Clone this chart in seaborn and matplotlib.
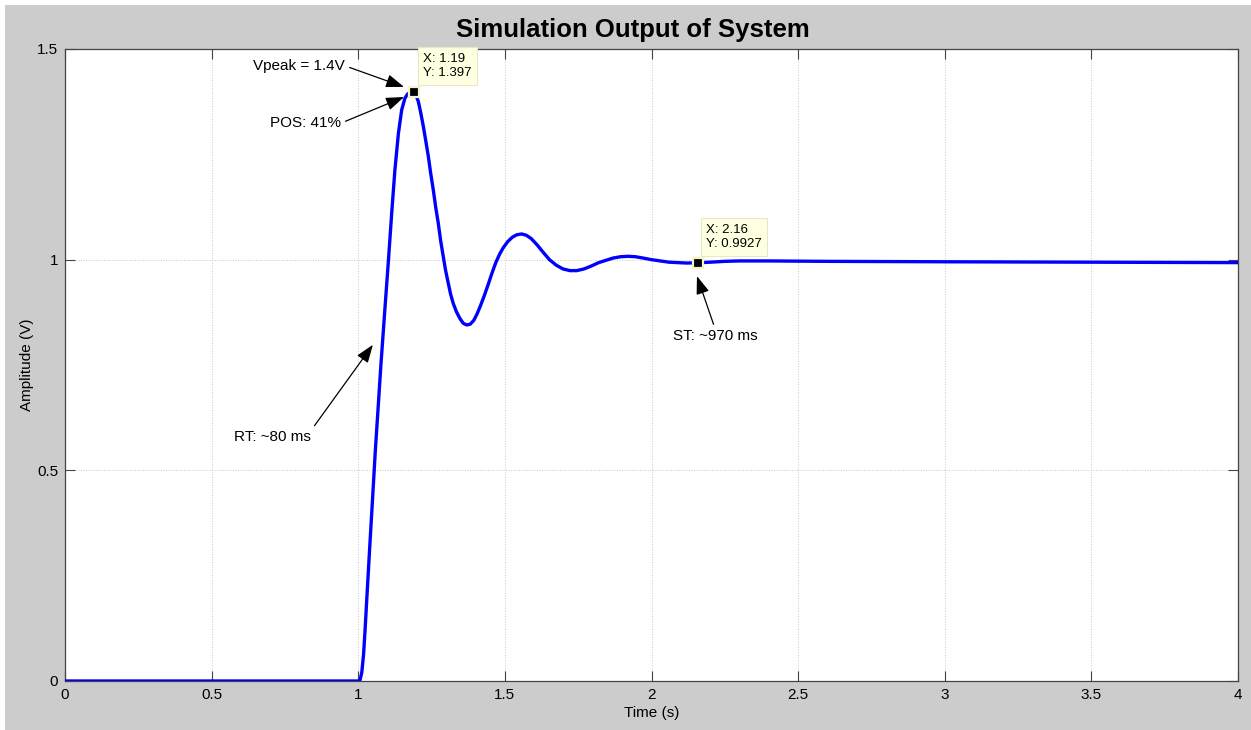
import matplotlib
matplotlib.use("Agg")
import matplotlib.pyplot as plt
import seaborn as sns
import pandas as pd
from matplotlib.patches import Rectangle

# ---- data ----
time_s = [0.0, 1.0, 1.006, 1.012, 1.018, 1.023, 1.031, 1.040, 1.049, 1.058,
          1.068, 1.077, 1.091, 1.103, 1.114, 1.125, 1.137, 1.148, 1.159, 1.168,
          1.177, 1.184, 1.19, 1.197, 1.205, 1.213, 1.222, 1.230, 1.239, 1.247,
          1.256, 1.264, 1.273, 1.281, 1.290, 1.298, 1.307, 1.315, 1.324, 1.335,
          1.347, 1.358, 1.370, 1.382, 1.394, 1.405, 1.417, 1.430, 1.443, 1.456,
          1.469, 1.482, 1.495, 1.510, 1.525, 1.540, 1.557, 1.573, 1.590, 1.610,
          1.630, 1.652, 1.675, 1.698, 1.722, 1.745, 1.770, 1.795, 1.820, 1.847,
          1.870, 1.895, 1.920, 1.945, 1.970, 2.000, 2.030, 2.060, 2.090, 2.120,
          2.160, 2.200, 2.250, 2.300, 2.400, 2.600, 3.000, 3.500, 4.000]
amplitude = [0.0, 0.0, 0.002, 0.020, 0.062, 0.118, 0.218, 0.328, 0.435, 0.544,
             0.651, 0.748, 0.884, 0.999, 1.110, 1.213, 1.300, 1.355, 1.383, 1.393,
             1.397, 1.398, 1.397, 1.390, 1.375, 1.349, 1.316, 1.283, 1.245, 1.205,
             1.165, 1.125, 1.086, 1.045, 1.007, 0.974, 0.944, 0.918, 0.896, 0.876,
             0.860, 0.849, 0.845, 0.847, 0.856, 0.871, 0.891, 0.915, 0.941, 0.968,
             0.993, 1.013, 1.029, 1.043, 1.053, 1.059, 1.061, 1.058, 1.050, 1.035,
             1.018, 1.000, 0.987, 0.978, 0.974, 0.974, 0.978, 0.985, 0.993, 0.999,
             1.004, 1.007, 1.008, 1.007, 1.004, 1.000, 0.997, 0.994, 0.993, 0.992,
             0.9927, 0.994, 0.996, 0.997, 0.997, 0.996, 0.995, 0.994, 0.993]

tip_x = [1.19, 2.16]
tip_y = [1.397, 0.9927]
tip_labels = ["X: 1.19\nY: 1.397", "X: 2.16\nY: 0.9927"]

x_ticks = [0, 0.5, 1, 1.5, 2, 2.5, 3, 3.5, 4]
x_tick_labels = ["0", "0.5", "1", "1.5", "2", "2.5", "3", "3.5", "4"]
y_ticks = [0, 0.5, 1, 1.5]
y_tick_labels = ["0", "0.5", "1", "1.5"]

title = "Simulation Output of System"
x_label = "Time (s)"
y_label = "Amplitude (V)"

# ---- style ----
sns.set_theme(style="white")
plt.rcParams['font.family'] = ['Liberation Sans', 'DejaVu Sans']
plt.rcParams['text.color'] = 'black'
plt.rcParams['axes.labelcolor'] = 'black'

fig = plt.figure(figsize=(12.51, 7.30), dpi=100, facecolor="#cccccc")
# thin white screenshot border on top and left
fig.patches.append(Rectangle((0, 1 - 5 / 730), 1, 5 / 730, transform=fig.transFigure,
                             facecolor="white", edgecolor="none", zorder=-1))
fig.patches.append(Rectangle((0, 0), 5 / 1251, 1, transform=fig.transFigure,
                             facecolor="white", edgecolor="none", zorder=-1))

ax = fig.add_axes([65 / 1251, 49 / 730, (1238 - 65) / 1251, (681 - 49) / 730])
ax.set_facecolor("white")

df = pd.DataFrame({"t": time_s, "v": amplitude})
sns.lineplot(data=df, x="t", y="v", ax=ax, color="#0000ff", linewidth=2.4,
             sort=False, estimator=None, zorder=3)

ax.set_xlim(0, 4)
ax.set_ylim(0, 1.5)
ax.set_xticks(x_ticks)
ax.set_xticklabels(x_tick_labels)
ax.set_yticks(y_ticks)
ax.set_yticklabels(y_tick_labels)
ax.tick_params(direction="in", length=7, width=0.8, colors="#444444",
               labelcolor="black", labelsize=11, top=True, right=True,
               bottom=True, left=True, pad=5)
ax.grid(True, linestyle=":", color="#c8c8c8", linewidth=0.7)
for s in ax.spines.values():
    s.set_color("#444444")
    s.set_linewidth(0.9)
    s.set_visible(True)

ax.set_xlabel(x_label, fontsize=11, labelpad=3, color="black")
ax.set_ylabel(y_label, fontsize=11, labelpad=2, color="black")
fig.text(633 / 1251, 1 - 29.5 / 730, title, fontsize=18.5, fontweight="bold",
         color="black", ha="center", va="center")

# data tip markers and boxes
ax.plot(tip_x, tip_y, linestyle="none", marker="s", markersize=7,
        markerfacecolor="black", markeredgecolor="#f4f4c8", markeredgewidth=1.6,
        zorder=5, clip_on=False)
tip_text_pos = [(1.222, 1.428), (2.186, 1.022)]
for (tx, ty), lab in zip(tip_text_pos, tip_labels):
    ax.text(tx, ty, lab, fontsize=9.5, ha="left", va="bottom", linespacing=1.3,
            color="black",
            bbox=dict(boxstyle="square,pad=0.4", facecolor="#ffffe1",
                      edgecolor="#e8e8c8", linewidth=0.8),
            zorder=6, clip_on=False)

# annotations with arrows
arrow = dict(arrowstyle="-|>,head_length=1.1,head_width=0.4", color="black",
             lw=0.9, mutation_scale=10, shrinkA=1, shrinkB=0)
ax.annotate("Vpeak = 1.4V", xy=(1.156, 1.410), xytext=(0.955, 1.460),
            ha="right", va="center", fontsize=11, color="black",
            arrowprops=dict(arrow, relpos=(1.0, 0.5)), zorder=7)
ax.annotate("POS: 41%", xy=(1.156, 1.386), xytext=(0.941, 1.324),
            ha="right", va="center", fontsize=11, color="black",
            arrowprops=dict(arrow, relpos=(1.0, 0.5)), zorder=7)
ax.annotate("RT: ~80 ms", xy=(1.050, 0.798), xytext=(0.709, 0.579),
            ha="center", va="center", fontsize=11, color="black",
            arrowprops=dict(arrow, relpos=(1.0, 1.0)), zorder=7)
ax.annotate("ST: ~970 ms", xy=(2.155, 0.961), xytext=(2.217, 0.819),
            ha="center", va="center", fontsize=11, color="black",
            arrowprops=dict(arrow, relpos=(0.5, 1.0)), zorder=7)

fig.savefig("out.png", dpi=100, facecolor=fig.get_facecolor())
